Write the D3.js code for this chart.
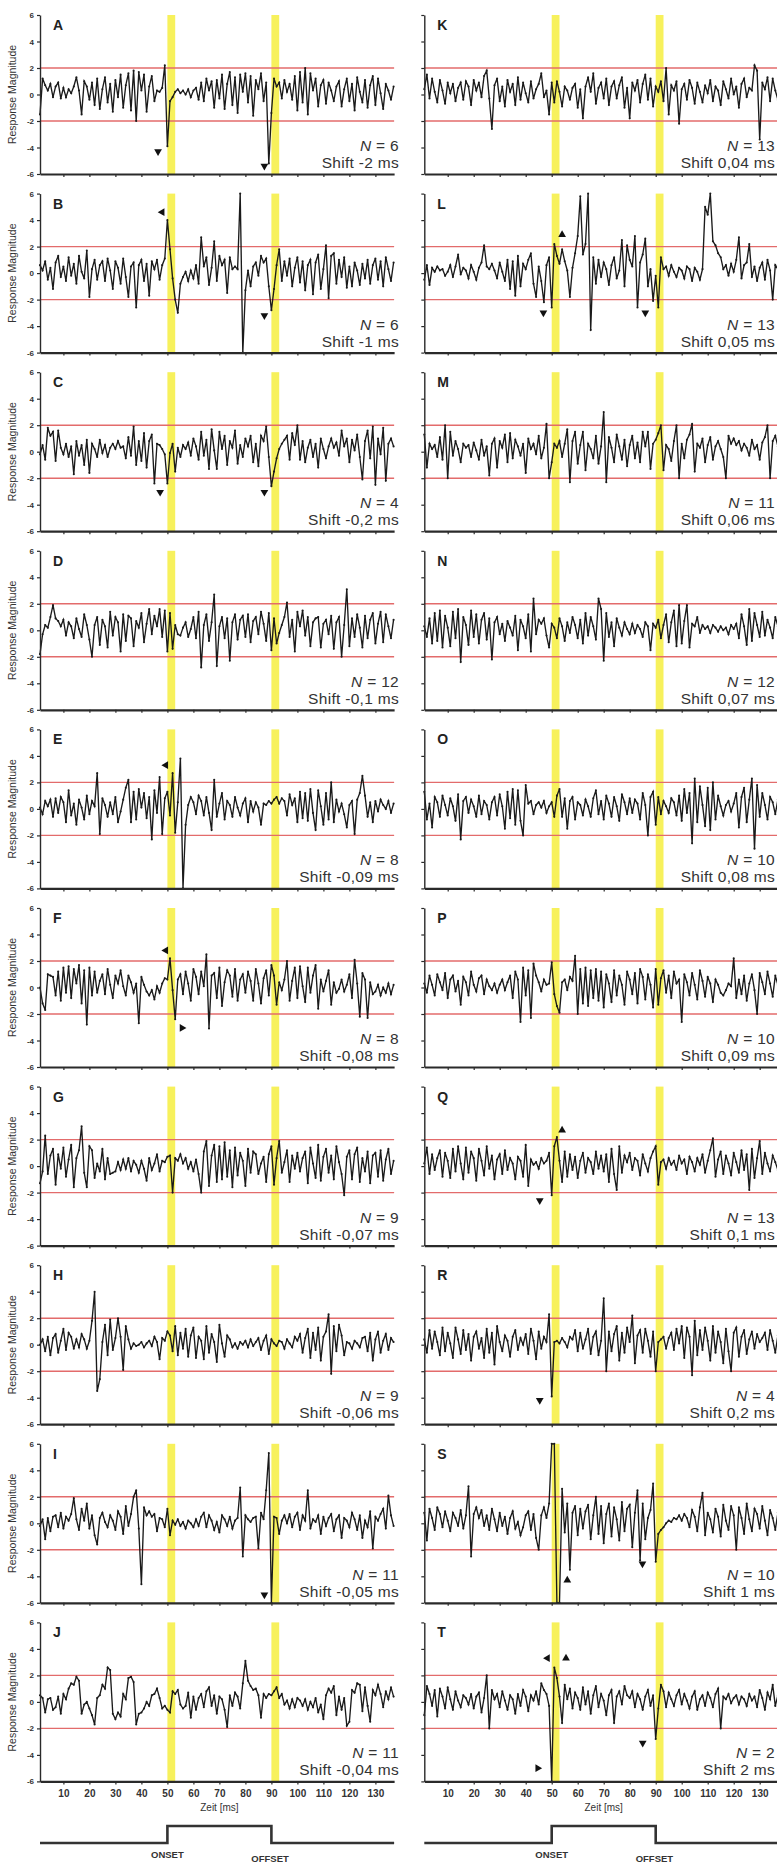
<!DOCTYPE html>
<html>
<head>
<meta charset="utf-8">
<script src="https://cdn.jsdelivr.net/npm/d3@7"></script>
<style>
  html, body { margin: 0; padding: 0; background: #fff; }
  svg { display: block; font-family: "Liberation Sans", Arial, Helvetica, sans-serif; }
</style>
</head>
<body>
<svg id="fig" width="777" height="1863"></svg>
<script>
// ---------------------------------------------------------------
// Response magnitude traces, one value per millisecond (t = 1 ... 137 ms)
// ---------------------------------------------------------------
const seriesA = [
  -1.5, 1.2, 0.7, 0.3, 0.8, -0.2, 0.6, 0.9, -0.3, 0.5,
  -0.2, 0.4, 0.1, 0.6, 1.3, 0.3, -1.5, 1.0, 0.6, -0.4,
  0.9, -0.8, 1.2, -1.1, 0.4, 1.3, -0.6, 0.8, -1.3, 1.1,
  -0.2, 1.5, -1.0, 0.7, 1.6, -1.2, 1.8, -2.0, 1.7, 0.3,
  1.5, -1.3, 0.6, 1.4, -0.5, 0.3, 0.2, 0.5, 2.2, -3.9,
  -0.5, -0.2, 0.2, 0.4, 0.1, 0.3, 0.0, 0.4, -0.2, 0.3,
  0.5, -0.4, 0.9, -0.5, 1.2, 0.3, 1.0, -1.0, 1.1, -0.3,
  1.5, -1.1, 0.8, 1.7, -0.8, 1.3, -1.4, 1.5, 0.2, 1.6,
  -0.6, 1.4, -1.6, 1.1, 0.4, 1.6, -0.5, 0.9, -5.2, -1.4,
  1.2, 0.6, 0.9, -0.3, 1.1, 0.2, 0.8, -0.4, 1.4, -1.2,
  1.7, -0.6, 2.0, -1.5, 1.6, 0.3, 1.2, -0.9, 0.7, 1.1,
  -0.7, 0.9, 0.3, -0.5, 0.6, 1.0, -0.9, 0.4, 1.2, -0.5,
  0.8, -1.2, 1.3, 0.2, -0.6, 1.1, -1.0, 0.7, 1.4, -0.8,
  1.2, 0.1, -1.1, 0.8, 0.3, -0.4, 0.6
];
const seriesB = [
  0.6, 0.2, 0.9, -0.5, 0.4, -1.2, 0.8, 1.3, -0.3, 0.5,
  -0.6, 1.2, -0.2, 0.7, -0.8, 1.3, 0.1, -0.4, 1.7, -1.8,
  0.3, 1.0, -0.5, 0.6, 0.9, -0.6, 1.1, 0.2, -1.2, 0.9,
  0.4, -0.8, 1.1, -0.3, -1.8, 0.5, 0.8, -2.6, 0.6, 1.0,
  -0.6, 0.7, -1.7, 0.9, 0.3, 1.0, -0.5, 0.6, 1.1, 4.0,
  1.8, -0.4, -2.0, -3.0, -0.8, -0.3, 0.1, -0.6, 0.2, -0.4,
  0.6, -0.8, 2.7, 0.5, 1.2, -0.9, 0.4, 2.4, -0.6, 1.3,
  0.6, 1.0, -1.5, 1.2, 0.3, 0.5, 0.3, 6.0, -6.0, -1.3,
  0.2, -1.0, 0.5, 0.8, -0.2, 1.3, 0.8, 1.1, -1.0, -2.8,
  -1.2, 0.6, 1.8, -0.6, 0.9, -0.2, 1.1, -1.0, 0.4, 1.2,
  -0.7, 0.9, -1.3, 0.6, 1.0, -1.6, 0.8, 1.4, -1.2, 0.3,
  2.1, -1.9, 1.3, 1.5, -0.8, 1.0, -0.3, 1.2, -1.1, 0.5,
  -1.0, 0.8, 0.2, -0.9, 0.7, -0.4, 1.0, -0.8, 0.6, 1.1,
  -0.5, 0.9, -1.0, 1.2, 0.3, -0.6, 0.8
];
const seriesC = [
  -0.2, 0.5, -0.6, 1.8, 1.2, 1.5, -0.7, 1.6, 0.3, -0.2,
  0.6, -0.4, 0.4, -1.7, 0.8, -0.3, 0.5, -1.0, 0.9, -1.6,
  0.6, 0.2, -0.4, 0.9, -0.1, 0.5, -0.4, 0.3, 0.6, 0.2,
  0.8, 0.3, 0.4, -0.5, 1.1, -0.3, 1.9, -1.0, 0.8, -0.7,
  1.4, -1.2, 0.8, 1.3, -2.4, 0.6, 0.5, 0.2, -0.2, -2.4,
  -0.1, 0.6, -1.5, 0.3, -0.4, 0.5, 0.2, 0.7, -0.3, 1.0,
  0.4, -0.6, 1.5, -0.3, 0.9, -1.3, 1.7, 0.1, -1.3, 1.5,
  0.2, 1.2, -1.0, 0.8, 0.3, 1.6, -0.9, 0.5, -0.4, 1.0,
  0.4, 1.2, -0.8, 0.6, -1.1, 1.2, 0.8, 1.9, -0.4, -2.6,
  -1.5, -0.5, 0.2, 0.6, 0.9, 1.2, -0.6, 1.4, 0.5, 2.0,
  -0.6, 0.8, -0.8, 0.3, 0.9, -0.4, 0.6, -1.2, 1.0, 0.2,
  -0.5, 0.4, 1.0, 0.3, 0.7, -0.3, 1.6, 0.4, 1.0, -0.8,
  0.9, 0.1, 1.3, -0.4, -2.1, 0.8, 1.6, -0.5, 1.9, -2.5,
  1.0, -0.2, 1.8, -2.2, 0.6, 1.0, 0.4
];
const seriesD = [
  -1.8, -0.3, 0.4, 0.2, 1.0, 1.9, 0.9, 0.7, 0.3, 0.8,
  -0.4, 0.6, 0.3, -0.6, 0.9, 0.1, -0.5, 1.2, 0.4, -0.7,
  -2.0, 0.4, 1.0, -1.1, 0.8, 0.3, -1.3, 1.4, -0.4, 1.0,
  0.6, -1.6, 1.2, -0.8, 1.1, 0.9, -1.2, 0.7, 0.2, 1.3,
  -0.9, 0.5, 1.6, -0.3, 1.1, 0.3, 1.6, -0.5, 1.5, -1.6,
  1.3, -1.4, 0.4, -0.3, -0.4, 0.2, 0.6, -0.5, 0.1, 1.0,
  -0.6, 1.4, -2.8, 0.4, 1.2, -0.8, 0.6, 2.7, -2.7, 0.3,
  1.0, -0.6, 0.9, -2.3, 0.6, 1.2, -0.7, 0.8, 1.1, -0.5,
  1.2, -0.9, 0.7, 1.0, -0.3, 1.4, 0.5, -0.8, 1.3, -1.5,
  0.9, -1.0, -0.2, 0.4, 1.0, 2.1, -0.5, 0.8, -1.6, 1.4,
  0.3, 1.5, -0.4, 1.0, -1.2, 0.6, 0.9, 1.0, -1.3, 0.5,
  0.8, -0.3, 1.1, -1.4, 0.6, 1.0, -2.0, 0.4, 3.1, -1.2,
  0.9, -0.5, 1.2, 0.2, -1.3, 1.1, -0.6, 0.8, 1.3, -1.0,
  0.5, 1.4, -0.9, 1.2, 0.3, -0.6, 0.8
];
const seriesE = [
  0.1, -0.4, 0.6, 0.2, 0.7, -0.6, 0.8, -0.3, 0.9, 0.5,
  -1.0, 1.4, -0.5, 0.4, -1.2, 0.7, 0.1, -0.8, 1.0, -0.4,
  0.6, 0.2, 2.7, -1.9, 0.8, 0.3, -0.6, 0.5, -0.4, 0.9,
  -1.0, -0.2, 0.7, 1.6, 2.2, -1.0, 1.3, -0.8, 1.5, 0.1,
  1.2, -0.7, 0.9, -2.3, 1.4, -0.3, 2.4, -1.9, 0.8, 1.3,
  -0.5, 2.7, -1.8, 0.5, 3.8, -6.0, -1.2, 0.3, 0.9, 0.5,
  -0.4, 1.0, 0.6, -0.5, 0.9, -0.3, -1.6, 2.2, -0.6, 0.4,
  1.2, -0.8, 0.6, 0.3, -0.6, 0.9, 0.1, -0.5, 0.4, 0.8,
  -1.0, 0.6, -0.2, 0.5, 0.1, -1.2, 0.4, 0.3, 0.6, 0.4,
  0.7, 0.9, 0.4, 0.8, 0.6, -0.5, 1.1, 0.3, 0.8, -1.0,
  1.3, -0.7, 1.2, -0.9, 1.5, -0.3, -1.6, 1.4, 0.2, -1.2,
  1.2, -0.8, 2.0, -1.0, 0.7, -0.2, 0.4, -0.4, -1.4, 0.3,
  0.6, -1.9, 0.7, 1.2, 2.5, 1.0, -0.6, 0.5, -1.0, 0.6,
  -0.2, 0.7, 0.3, 0.0, 0.6, -0.3, 0.4
];
const seriesF = [
  0.0, -1.2, -1.7, 1.0, 0.9, 0.8, -0.6, 1.2, -1.0, 1.5,
  -0.4, 1.6, -0.8, 1.4, 0.3, 1.7, -1.2, 1.3, -2.8, 1.5,
  -0.6, 1.2, -0.4, 0.5, 1.0, -0.5, 1.4, 0.2, -0.8, 0.9,
  0.3, 1.3, 0.1, -0.6, 0.9, 0.4, -0.4, 0.3, -2.7, 0.8,
  0.2, -0.3, -0.6, -0.2, -0.9, 0.1, -0.4, 0.3, 0.7, 0.6,
  2.2, -0.2, -2.4, 0.6, 1.0, -0.5, 1.2, 0.3, -1.0, 1.4,
  0.8, -0.5, 1.2, 0.1, 2.5, -3.1, 0.9, 1.1, -0.8, 1.5,
  -1.4, 0.4, 1.3, 0.9, -0.7, 1.4, -1.0, 0.6, 1.0, -0.4,
  1.2, 0.5, -1.0, 1.4, 0.3, -1.2, 0.7, 1.3, -0.6, 1.7,
  0.9, -1.3, 0.4, -0.2, 0.6, 2.0, -1.0, 0.5, 1.5, -0.8,
  1.6, 0.1, -1.1, 1.5, -0.4, 0.9, 1.7, -1.6, 0.6, -0.3,
  0.5, 1.3, -1.3, 0.4, -0.4, -0.1, 0.6, -0.3, 0.2, 1.0,
  -0.8, 2.1, 0.3, -2.2, 1.1, 0.6, -2.3, 0.4, -0.5, -0.3,
  0.2, -0.6, 0.0, -0.4, 0.3, -0.5, 0.2
];
const seriesG = [
  -1.3, -0.4, 2.3, -0.6, 0.8, 1.3, -1.4, 0.9, -0.2, 1.4,
  -0.8, 0.5, 1.6, -1.6, 0.6, 1.2, 3.0, -0.5, -1.6, 1.5,
  1.2, -0.9, 0.2, -0.4, 1.3, -1.0, 0.6, -0.6, -0.5, -0.4,
  0.3, -0.3, 0.5, -0.2, 0.6, -0.4, 0.4, 0.1, -0.5, 0.4,
  -0.2, -1.1, 0.6, -0.3, 0.2, 0.9, -0.4, 0.4, 0.3, 0.7,
  0.8, -2.0, 0.6, 0.4, 0.9, 0.2, 0.6, -0.2, 0.3, -0.4,
  0.5, -0.6, -2.0, 1.1, 1.9, -1.5, 0.8, 1.6, -1.2, 1.5,
  -1.0, 1.8, -0.8, 1.2, -1.6, 1.4, -0.7, 1.0, 0.4, -1.5,
  1.3, -0.5, 1.1, 0.9, -0.6, 0.2, 0.7, -1.2, 0.9, 1.5,
  -1.4, 0.6, 1.9, -0.5, 0.3, 1.2, -1.2, 0.8, -0.2, 1.0,
  -0.4, 0.6, 1.1, -1.3, 1.4, 0.2, -0.9, 1.6, -1.1, 0.7,
  1.3, -0.5, 0.8, -1.0, 1.5, 0.3, -0.6, -2.2, 0.7, 1.2,
  -1.0, 0.9, 1.4, -1.2, 0.6, -0.4, 1.1, -1.3, 0.8, 1.0,
  -0.8, 1.2, -1.1, 0.5, 1.3, -0.6, 0.4
];
const seriesH = [
  0.0, 0.4, -0.5, 0.6, -0.8, 0.5, 0.8, -0.6, 0.3, 1.2,
  -0.4, 0.9, 0.6, -0.3, 0.4, -0.2, 0.8, 0.4, -0.3, 0.3,
  1.8, 4.0, -3.5, -2.6, 0.2, 1.5, -0.8, 1.9, -0.4, 0.5,
  2.0, 0.6, -1.9, 1.4, 0.4, -0.3, 0.1, -0.1, 0.0, 0.2,
  -0.2, 0.1, 0.3, -0.1, 0.6, 0.2, -1.1, 0.5, 0.3, 1.0,
  0.7, -0.5, 1.4, -0.8, 0.9, -0.3, 1.2, -0.9, 0.7, 1.3,
  -1.0, 0.6, 0.3, -1.1, 1.4, -0.6, 0.8, 0.2, -1.3, 1.5,
  0.1, -0.9, 0.7, 0.4, -0.2, 0.1, -0.3, 0.2, 0.0, 0.3,
  -0.2, 0.4, -0.1, 0.2, 0.5, -0.4, 0.3, 0.7, -0.7, 0.4,
  0.1, -0.1, 0.3, 0.2, -0.3, 0.4, 0.1, -0.2, 0.6, 0.3,
  0.8, -0.6, 0.5, 1.2, -1.0, 0.9, -0.4, 1.3, -1.2, 0.6,
  1.0, 2.3, -2.2, 1.4, -0.5, 1.5, 0.7, -0.8, 0.2, 0.1,
  -0.3, 0.3, 0.1, -0.2, 0.5, 0.6, -0.5, 0.9, -1.2, 0.4,
  1.0, -0.6, 0.3, 0.8, -0.4, 0.5, 0.2
];
const seriesI = [
  -0.2, 0.3, -1.2, 0.4, -0.6, 0.5, 0.6, -0.3, 0.8, -0.4,
  0.5, 0.2, 0.7, 1.9, 0.3, -0.5, 1.1, 0.2, 1.5, -0.4,
  0.6, -0.9, -1.6, 0.4, 0.8, 0.1, -0.3, 0.6, 0.2, -0.5,
  0.9, 0.5, -0.8, 1.3, -0.2, 0.7, 2.0, 2.5, -0.4, -4.6,
  1.2, 0.6, 0.9, 0.5, 0.7, -0.6, 0.4, 0.3, -0.3, 1.1,
  -0.9, 0.2, -0.1, 0.3, -0.2, 0.1, -0.4, 0.2, 0.0, -0.3,
  0.3, -0.2, 0.5, 0.8, -0.3, 0.6, 0.2, -0.5, 0.1, -0.7,
  0.6, 0.3, -0.2, 0.5, -0.4, 0.2, 0.4, 2.7, -2.5, 0.6,
  0.3, 0.1, 0.4, 0.5, -1.9, 0.8, 0.3, 2.5, 5.3, -6.0,
  0.5, 0.4, -0.8, 0.2, 0.6, 0.0, 0.7, -0.3, 0.5, 0.8,
  -0.5, 0.6, 0.2, 2.5, -0.4, 0.3, 0.1, 0.6, -0.8, 0.5,
  -0.2, 0.4, 0.7, -0.6, 0.3, 0.6, -1.1, 0.4, 0.2, -0.3,
  0.8, 0.3, -0.5, 0.6, -1.1, 0.2, -0.3, 0.9, -1.9, 0.5,
  0.2, 0.7, 1.1, -0.4, 2.1, 0.6, -0.2
];
const seriesJ = [
  0.5, 0.3, -0.8, 0.2, 0.3, -0.6, -0.4, 0.4, -0.9, 0.6,
  0.2, 1.0, 1.4, 1.3, 1.9, 1.6, -0.9, -0.2, 0.0, -0.5,
  -1.0, -1.7, 0.3, 0.5, 1.3, 1.0, 2.6, 2.4, -0.9, -1.3,
  -0.8, -1.1, 0.6, 0.2, 1.8, 1.9, 1.5, -1.7, -0.9, -0.8,
  -0.5, 0.0, -0.3, 0.5, 0.6, 1.0, 0.3, -0.5, -0.3, -0.6,
  -0.8, 0.8, 0.6, 0.9, -0.2, -0.5, -0.3, 0.7, -1.2, 0.4,
  -0.6, 0.3, 0.6, -0.4, 0.8, 1.1, -0.3, 0.5, -0.9, 0.4,
  0.2, -0.6, -1.9, 0.5, -0.3, 0.7, 0.4, -0.5, 1.4, 3.1,
  1.6, 1.2, 0.9, 1.0, 0.5, -1.2, 0.6, 0.3, 0.6, 0.5,
  0.8, 1.1, 0.3, 0.6, -0.2, 0.1, -0.5, 0.2, -0.4, 0.3,
  0.1, -0.3, 0.2, -0.6, 0.0, -0.4, 0.3, -0.8, -0.2, -1.3,
  0.5, 1.0, 0.7, 1.2, -1.0, 0.4, -0.6, 0.3, -1.8, -1.5,
  0.9, 0.7, 1.4, 1.3, -0.7, 1.1, -0.3, -1.5, 0.9, 0.5,
  1.3, 0.6, -0.4, 0.8, 0.2, 1.1, 0.4
];
const seriesK = [
  0.4, 1.5, -0.3, 1.2, 0.2, -0.6, 1.1, 0.3, -0.7, 0.9,
  0.1, 0.8, -0.5, 0.5, 0.9, -0.4, 1.0, 0.6, -0.8, 1.1,
  0.3, 0.9, -0.2, 1.4, 1.8, -0.3, -2.6, 0.7, 1.2, -0.5,
  0.6, -0.9, 1.1, 0.2, 0.8, -0.8, 1.3, -0.4, 0.9, 0.1,
  -0.6, 1.0, -0.3, 0.4, 0.8, 1.6, -0.2, 0.3, -1.5, 0.9,
  -0.6, 1.0, 0.2, -0.9, 0.6, 0.3, -0.4, 0.5, 0.8, -1.0,
  0.4, -1.8, 0.6, 1.3, 0.2, 1.6, -0.7, 0.5, 0.9, -0.3,
  1.2, -0.8, 0.6, 1.0, -0.3, 0.7, 1.3, -1.0, 0.5, -1.8,
  0.9, 0.3, 1.1, -0.6, 0.8, 1.5, -0.4, 1.2, -0.9, 0.6,
  0.2, 1.0, -0.5, 2.0, -1.5, 0.7, 0.3, 1.0, -2.2, 0.4,
  0.8, -0.4, 1.1, 0.5, -0.7, 0.9, 0.2, -0.6, 0.7, 0.1,
  1.1, -0.5, 0.6, 0.3, -0.8, 1.0, 0.4, -0.3, 1.2, 0.0,
  0.6, -1.0, 0.8, 1.2, -0.2, 0.5, 0.3, 2.2, 1.8, -3.4,
  0.9, 0.4, 1.3, -0.5, 1.2, 0.3, -0.4
];
const seriesL = [
  -0.5, 0.6, -0.9, 0.4, 0.1, 0.5, 0.2, 0.3, -0.2, 0.1,
  0.6, -0.3, 0.5, 1.4, -0.1, 0.4, 0.2, -0.4, 0.6, 0.1,
  -0.5, 0.4, 0.8, 2.1, 0.5, 0.3, 0.7, 0.2, -0.4, 0.8,
  0.1, -0.6, 1.0, -1.2, 0.9, -1.7, 1.3, -1.0, 0.7, 0.3,
  1.0, 1.5, -0.8, -1.8, 0.5, -0.6, -2.2, 0.6, 1.2, -2.6,
  2.2, 1.3, 0.7, 1.8, 0.9, 0.2, -1.8, 0.4, 1.5, 2.8,
  5.8, 1.4, 2.2, 6.0, -4.3, 1.2, -0.8, 1.0, -0.3, 0.8,
  0.3, -0.9, 0.6, 1.2, -0.4, 0.2, 2.5, -1.0, 2.1, 1.0,
  0.5, 2.8, -2.6, 0.8, 1.4, 2.6, -1.0, 0.3, -2.1, -0.2,
  -2.6, 1.2, 0.3, 0.5, -0.2, 0.6, 0.1, -0.3, 0.4, 0.2,
  -0.4, 0.5, 0.3, -0.6, 0.4, 0.1, -0.5, 0.3, 5.0, 4.4,
  6.0, 2.4, 2.1, 1.5, 1.2, 0.3, 0.6, -0.2, 0.7, 0.1,
  1.0, 2.7, -0.4, 0.6, 0.8, 2.2, -0.3, 0.5, -0.6, 0.4,
  0.8, -0.5, 1.0, 0.2, -2.0, 0.6, 0.3
];
const seriesM = [
  1.3, -1.2, 0.6, 0.2, 0.5, -0.4, 1.1, -0.6, 2.0, -2.0,
  1.5, -0.3, 0.8, 0.2, -0.8, 0.6, 0.3, 0.5, -0.4, 0.7,
  0.1, -0.6, 0.9, -0.3, 0.4, -1.8, 0.6, 1.0, -1.2, 0.8,
  0.3, 1.3, -0.8, 1.4, -0.5, 0.9, 0.4, -0.3, 0.6, -1.6,
  1.0, 0.2, 0.6, -0.2, 1.2, -0.5, 0.3, 2.1, -2.0, -0.8,
  0.6, 0.3, 0.8, -0.4, 0.6, 1.7, -2.3, 0.8, 1.5, -0.9,
  0.5, 1.5, -1.4, 0.6, 0.2, -0.5, 1.2, -0.9, 0.4, 3.0,
  -2.3, 1.1, 0.3, -0.8, 1.3, 0.4, -0.6, 0.9, -1.1, 0.5,
  1.2, -0.5, 0.7, -0.8, 1.5, 0.4, 1.5, -1.3, 0.6, 0.9,
  1.4, 2.0, -1.4, 0.5, 0.2, -0.7, 0.8, 2.0, -2.0, 0.6,
  -0.5, 0.9, 1.3, 2.1, -1.5, 0.6, 0.3, 1.0, -0.8, 0.5,
  1.1, -0.6, 0.4, 0.8, 0.2, -0.4, -2.0, 1.2, 0.6, 1.0,
  0.5, 0.8, 0.1, 0.6, 0.3, -0.3, 0.9, 0.2, 0.5, -0.6,
  0.7, 1.1, 2.0, -2.0, 0.8, 1.2, 0.4
];
const seriesN = [
  0.3, -0.5, 0.9, -1.0, 1.3, -0.8, 1.5, -1.3, 1.1, 0.2,
  -1.2, 1.4, -0.6, 1.6, -2.4, 1.0, 0.4, -1.1, 1.5, -0.5,
  1.2, -1.0, 0.8, 1.3, -0.7, 0.9, -2.2, 0.6, 1.0, -0.3,
  0.5, -0.8, 0.7, 0.2, -0.4, 1.1, -1.5, 0.8, 0.3, -0.6,
  1.2, -1.6, 2.4, -0.3, 0.8, 0.5, 0.9, -0.4, -1.3, 0.5,
  0.2, -0.6, 0.9, 0.3, -0.8, 0.6, -0.2, 1.0, 0.4, -0.6,
  0.8, -1.0, 1.3, -0.4, 1.0, 0.3, -0.7, 2.4, 1.6, -2.3,
  1.3, -0.5, 0.6, -1.2, 0.9, 0.2, -0.4, 0.6, 0.1, -0.3,
  0.5, -0.2, 0.4, 0.1, -0.5, 0.6, 0.3, -1.5, 0.5, 0.2,
  0.8, -0.6, 0.4, 1.2, -0.9, 0.6, 1.5, -1.2, 1.9, -1.0,
  0.7, 1.9, -1.3, 0.5, 0.3, 1.0, -0.2, 0.4, 0.1, 0.3,
  -0.2, 0.4, 0.2, -0.1, 0.3, 0.0, 0.2, -0.3, 0.4, 0.1,
  0.5, -0.6, 1.2, 0.3, -1.1, 1.6, -0.8, 1.3, 0.4, -0.5,
  1.4, -0.4, 0.8, 0.2, -0.6, 1.0, 0.3
];
const seriesO = [
  1.3, -0.8, 0.4, -1.4, 0.9, 0.5, -0.6, 1.0, 0.3, -0.5,
  0.8, 0.2, -0.9, 1.1, -2.3, 0.6, 0.9, -0.3, 0.7, 0.2,
  -0.6, 1.0, -0.4, 0.6, 0.3, -0.8, 0.5, 0.9, -0.5, 1.1,
  0.2, -1.5, 1.3, -0.7, 1.5, -1.2, 1.4, -0.9, -2.0, 1.8,
  0.4, 0.6, -0.4, 0.3, 0.5, 0.1, 0.6, -0.3, 0.2, 0.5,
  -0.6, 1.0, 1.5, -0.6, 0.8, -1.5, 0.6, 0.9, -0.8, 0.5,
  0.3, -0.5, 0.7, 0.2, -0.6, 0.8, 1.4, -0.4, 0.6, -0.8,
  1.0, 0.4, -0.6, 0.9, 0.2, -0.9, 1.1, 0.5, -0.4, 0.8,
  -0.3, 0.7, 0.4, -0.8, 1.2, 0.3, -2.0, 0.9, 1.3, -1.2,
  0.9, -0.4, 0.6, 0.2, -0.3, 0.8, 0.5, -0.5, 1.0, -0.9,
  1.5, -0.3, 1.2, -2.6, 2.3, -1.0, 1.7, 0.3, -1.3, 1.6,
  -1.6, 2.0, -0.8, 1.0, 0.2, -0.5, 0.3, 0.6, -0.2, 0.4,
  1.2, -1.4, 0.9, 1.6, -1.0, 0.7, 2.3, -3.0, 1.8, -0.6,
  1.2, 0.3, -0.8, 0.9, 0.5, -0.4, 0.7
];
const seriesP = [
  0.3, -0.4, 0.9, 0.2, -0.6, 1.0, 0.4, -0.2, 1.1, -0.8,
  0.6, 0.9, -0.3, 0.5, -1.3, 0.8, 0.4, -0.6, 1.2, 0.2,
  -0.3, 0.7, 0.9, -0.5, 0.6, 0.1, -0.2, 0.3, -0.4, 0.2,
  0.6, -0.2, 0.4, 0.9, -0.8, 1.2, 0.6, -2.6, 1.5, -0.6,
  1.3, -2.3, 1.8, 0.9, 0.4, -0.3, 0.6, 0.2, 0.3, 1.9,
  -0.5, -1.4, -1.9, 0.4, 0.6, -0.2, 0.8, 0.5, 2.4, -2.0,
  1.4, -1.2, 1.5, -1.4, 1.3, -0.8, 1.4, -1.0, 1.2, -1.5,
  1.0, 0.3, -1.1, 1.3, -0.6, 0.9, 0.2, -1.3, 1.2, 0.6,
  -0.5, 1.1, -1.2, 1.4, 0.8, -0.9, 1.0, 0.2, -1.5, 1.4,
  -1.3, 0.7, 1.3, -0.4, 0.9, -0.8, 1.2, 0.3, 0.6, -2.6,
  1.0, 0.4, -0.6, 1.1, 0.2, -0.9, 1.3, 0.5, -0.7, 0.8,
  0.3, -1.1, 0.6, 0.2, -0.4, -0.6, -0.2, 0.3, 0.1, 2.2,
  -0.8, 0.6, -0.5, 0.9, -1.0, 0.3, 1.0, -0.2, -2.0, 1.1,
  0.4, -0.5, 1.2, 0.3, -0.7, 0.9, 0.2
];
const seriesQ = [
  0.2, 1.4, -0.6, 0.9, -0.3, 0.6, 1.2, -0.8, 1.0, 0.4,
  -0.9, 1.3, -0.4, 1.5, 0.2, -1.0, 1.4, -0.5, 1.1, 0.6,
  -1.1, 1.3, 0.4, -0.7, 1.5, -0.2, 0.8, -1.0, 0.5, 0.9,
  -0.6, 1.2, -0.3, 0.6, 0.2, -1.0, 0.7, 0.4, -0.8, 1.6,
  -1.5, 0.5, 0.1, 0.3, -0.2, 0.6, 0.2, 0.4, 1.0, -2.2,
  1.5, 2.2, 0.4, -1.2, 1.1, -0.8, 0.9, -0.3, 0.7, -0.9,
  0.4, 1.0, -0.5, 0.6, 0.3, -0.6, 1.1, -0.2, 0.8, -0.4,
  0.9, -1.2, 1.3, -0.6, -1.8, 1.5, -0.5, 0.8, 0.3, 1.0,
  -0.3, 0.6, 0.4, -0.7, 0.9, 0.2, -0.4, 0.6, 1.1, 1.5,
  -1.4, 0.3, 0.5, -0.2, 0.6, 0.1, 0.4, -0.3, 0.8, 0.2,
  0.5, -0.6, 0.7, 0.3, -0.4, 0.6, 0.1, 0.9, -0.5, 0.4,
  1.2, 2.1, -0.8, 0.5, 1.1, -0.6, 0.8, 0.2, -0.7, 1.0,
  0.3, -0.5, 1.2, -0.3, 0.9, -1.8, 1.3, -0.9, 0.6, 1.9,
  -0.6, 1.0, 0.2, -0.4, 0.8, 0.3, -0.3
];
const seriesR = [
  0.4, -0.6, 1.1, -0.3, 1.0, 0.2, -0.8, 1.3, -0.5, 0.9,
  0.1, -1.0, 1.3, 0.4, -0.7, 1.1, -0.4, 0.8, -1.2, 0.6,
  1.0, -0.3, 0.5, -1.0, 1.2, -0.6, 0.9, -1.5, 1.4, 0.2,
  -0.5, 0.7, 0.3, -0.9, 0.6, 1.1, -0.4, 0.5, 0.0, 0.8,
  -0.7, 1.2, 0.3, -1.1, 1.0, -0.3, 0.6, 0.2, 2.3, -3.9,
  0.2, 0.3, 0.1, 0.5, 0.2, -0.2, 0.6, 0.4, 1.1, -0.5,
  0.9, -0.3, 0.4, 1.2, -0.7, 0.6, 1.0, -0.8, 0.3, 3.5,
  -2.0, 1.0, -0.5, 0.8, 1.4, -1.2, 0.9, -0.6, 1.3, 0.2,
  2.2, -1.4, 0.7, 1.1, -0.6, 1.2, 0.3, -0.9, 1.0, -2.0,
  0.2, 0.4, 0.6, -0.3, 0.5, 0.9, -0.4, 1.2, 0.1, 1.4,
  -1.0, 1.3, 0.6, -2.3, 1.8, -0.8, 1.1, -0.4, 1.3, 0.3,
  -1.2, 1.4, -0.6, 1.0, 0.2, -1.4, 1.2, -0.5, -2.0, 0.9,
  1.3, -0.9, 0.6, 1.1, -0.7, 0.4, 1.0, -0.3, 0.8, 0.2,
  0.5, 0.9, -0.4, 1.1, 0.3, -0.6, 0.7
];
const seriesS = [
  0.8, -1.3, 1.1, 0.4, -0.5, 1.2, 0.7, -0.3, 0.9, 0.2,
  -0.6, 0.8, 0.4, -0.2, 1.0, -0.4, 0.6, 2.8, -2.5, 0.7,
  1.2, 0.4, 1.0, -0.2, 0.6, -0.5, 1.1, 0.3, -0.6, 0.8,
  -0.2, 0.5, -0.8, 0.4, 0.9, -0.4, 0.1, -0.9, -0.3, 0.6,
  0.9, -0.5, 0.7, -1.1, -2.0, 0.6, 1.2, 0.4, 1.5, 6.0,
  6.0, -6.0, -6.0, 2.6, -0.7, 1.5, -3.5, 0.8, 1.3, -0.9,
  1.1, -0.4, 0.9, 1.4, -1.2, 0.6, 2.0, -0.8, 1.3, -1.5,
  0.7, 1.5, -1.0, 1.2, 0.3, -1.3, 1.6, -0.6, 1.1, 1.4,
  -1.8, 0.8, 2.5, -2.8, 1.5, -1.2, 0.4, 1.0, 3.0, -2.9,
  -0.8, -0.5, -0.3, 0.0, 0.2, 0.1, 0.4, 0.3, 0.6, 0.2,
  0.7, 0.4, -0.3, 1.0, 0.5, -0.6, 1.2, 2.3, -0.9, 0.8,
  0.3, -0.7, 1.1, 0.5, -1.0, 1.4, 0.2, -0.5, 1.3, 0.6,
  -2.0, 1.2, 0.4, -0.8, 1.5, 0.3, -0.6, 1.1, 0.7, -0.4,
  1.3, 0.2, -0.9, 1.0, 0.4, -0.5, 0.8
];
const seriesT = [
  -1.0, 1.2, 0.6, -0.3, 0.9, -1.1, 1.0, 0.4, -0.5, 1.1,
  0.2, -0.6, 0.8, 0.1, -0.4, 0.5, 0.3, -0.2, 0.6, -0.5,
  0.4, 0.7, -0.8, 0.3, 2.0, -2.0, 0.9, 0.2, 0.6, -0.4,
  0.8, 0.1, -0.6, 0.5, 0.2, -0.9, 0.6, -0.3, 0.9, 0.4,
  -0.7, 0.5, 0.1, 0.8, -0.2, 1.4, 0.9, 0.6, -0.3, -6.0,
  2.6, 1.8, 0.4, -1.6, 1.3, 0.2, 1.0, -0.5, 0.7, 0.3,
  -0.6, 1.1, -0.2, 0.8, -0.9, 0.5, 1.2, -0.4, 0.6, 0.1,
  -1.0, 0.5, 0.9, -1.6, 0.4, 0.8, -0.2, 1.2, 0.5, 0.3,
  0.8, -0.4, 0.6, 0.2, -0.6, 0.4, 0.9, -0.3, 0.5, -2.8,
  -0.5, 1.3, 0.8, -0.4, 0.7, 0.2, -0.3, 0.5, 0.9, -0.2,
  0.6, 0.1, -0.5, 0.4, 0.8, -0.6, 0.2, 0.5, -0.3, 0.7,
  0.3, -0.4, 0.6, 1.0, -2.0, 0.4, 0.2, 0.6, -0.1, 0.3,
  0.5, -0.2, 0.4, 0.2, -0.3, 0.6, 0.1, 0.4, -0.4, 0.9,
  0.3, -0.6, 0.7, 0.2, 1.3, -0.3, 0.5
];

// Panel annotations
const panelLetters = ["A","B","C","D","E","F","G","H","I","J",
                      "K","L","M","N","O","P","Q","R","S","T"];
const panelN = [6, 6, 4, 12, 8, 8, 9, 9, 11, 11,
                13, 13, 11, 12, 10, 10, 13, 4, 10, 2];
const panelShift = ["Shift -2 ms", "Shift -1 ms", "Shift -0,2 ms", "Shift -0,1 ms", "Shift -0,09 ms",
                    "Shift -0,08 ms", "Shift -0,07 ms", "Shift -0,06 ms", "Shift -0,05 ms", "Shift -0,04 ms",
                    "Shift 0,04 ms", "Shift 0,05 ms", "Shift 0,06 ms", "Shift 0,07 ms", "Shift 0,08 ms",
                    "Shift 0,09 ms", "Shift 0,1 ms", "Shift 0,2 ms", "Shift 1 ms", "Shift 2 ms"];
const allSeries = [seriesA, seriesB, seriesC, seriesD, seriesE, seriesF, seriesG, seriesH, seriesI, seriesJ,
                   seriesK, seriesL, seriesM, seriesN, seriesO, seriesP, seriesQ, seriesR, seriesS, seriesT];

// Significant-response markers: [panel letter, time ms, magnitude, pointing direction]
const markerPanel = ["A","A","B","B","C","C","E","F","F","I",
                     "L","L","L","Q","Q","R","S","S","T","T","T","T"];
const markerTime  = [46.4, 87.3, 48.0, 87.3, 47.2, 87.3, 49.4, 49.4, 55.6, 87.3,
                     54.0, 46.8, 86.0, 54.0, 45.4, 45.4, 56.0, 84.9, 48.4, 55.5, 44.6, 85.0];
const markerValue = [-4.3, -5.4, 4.6, -3.2, -3.05, -3.05, 3.3, 2.8, -3.05, -5.4,
                     2.9, -3.0, -3.0, 2.7, -2.6, -4.2, -4.3, -3.05, 3.3, 3.3, -5.0, -3.1];
const markerDir   = ["down","down","left","down","down","down","left","left","right","down",
                     "up","down","down","up","down","down","up","down","left","up","right","down"];

// Axes, thresholds and stimulus timing
const yTicks = [-6, -4, -2, 0, 2, 4, 6];
const xTicks = [10, 20, 30, 40, 50, 60, 70, 80, 90, 100, 110, 120, 130];
const thresholds = [2, -2];
const windowStart = [50, 90];
const windowEnd = [53, 93];
const stimulusTime  = [1, 50, 50, 90, 90, 137.2];
const stimulusLevel = [0, 0, 1, 1, 0, 0];
const stimulusLabels = ["ONSET", "OFFSET"];
const stimulusLabelTime = [50, 89.5];

// ---------------------------------------------------------------
// Layout
// ---------------------------------------------------------------
const timeMs = d3.range(1, 138);           // sample grid, 1 ms steps
const tDomain = [1, 137.2];
const pxPerMs = 2.6;
const columnAxisX = [40, 424.3];
const columnTextRight = [399, 775];
const panelTop0 = 15, panelStep = 178.6, panelH = 159;

const svg = d3.select("#fig");
svg.append("rect").attr("width", 777).attr("height", 1863).attr("fill", "#fff");

const inkColor = "#2a2a2a";
const lineGen = d3.line();

allSeries.forEach((values, idx) => {
  const col = Math.floor(idx / 10), row = idx % 10;
  const axisX = columnAxisX[col];
  const top = panelTop0 + row * panelStep;
  const x = d3.scaleLinear().domain(tDomain).range([axisX, axisX + pxPerMs * (tDomain[1] - tDomain[0])]);
  const y = d3.scaleLinear().domain([-6, 6]).range([top + panelH, top]);
  const g = svg.append("g").attr("class", "panel panel-" + panelLetters[idx]);

  // stimulus windows
  g.selectAll("rect.win").data(windowStart).join("rect")
    .attr("class", "win")
    .attr("x", (d) => x(d))
    .attr("width", (d, i) => x(windowEnd[i]) - x(d))
    .attr("y", y(6)).attr("height", y(-6) - y(6))
    .attr("fill", "#f7f15c");

  // ±2 thresholds
  g.selectAll("line.thr").data(thresholds).join("line")
    .attr("class", "thr")
    .attr("x1", x(tDomain[0])).attr("x2", x(tDomain[1]))
    .attr("y1", (d) => y(d)).attr("y2", (d) => y(d))
    .attr("stroke", "#e36b6b").attr("stroke-width", 1.4);

  // response trace
  const pts = values.map((v, i) => [x(timeMs[i]), y(v)]);
  g.append("path")
    .attr("d", lineGen(pts))
    .attr("fill", "none")
    .attr("stroke", "#1a1a1a")
    .attr("stroke-width", 1.35)
    .attr("stroke-linejoin", "miter");
  g.selectAll("circle.pt").data(values).join("circle")
    .attr("class", "pt")
    .attr("cx", (d, i) => x(timeMs[i]))
    .attr("cy", (d) => y(d))
    .attr("r", 1.05)
    .attr("fill", "#1a1a1a");

  // y axis
  const yAxis = d3.axisLeft(y).tickValues(yTicks).tickSize(3).tickSizeOuter(0).tickPadding(3)
    .tickFormat(col === 0 ? (d) => String(d) : () => "");
  const ya = g.append("g").attr("transform", `translate(${axisX},0)`).call(yAxis);
  ya.select(".domain").attr("stroke", inkColor).attr("stroke-width", 1.4);
  ya.selectAll(".tick line").attr("stroke", inkColor).attr("stroke-width", 1.2);
  ya.selectAll(".tick text").attr("fill", "#333").style("font-size", "8px").style("font-weight", "bold");

  // x axis
  const isBottom = row === 9;
  const xAxis = d3.axisBottom(x).tickValues(xTicks).tickSize(3).tickSizeOuter(0).tickPadding(6)
    .tickFormat(isBottom ? (d) => String(d) : () => "");
  const xa = g.append("g").attr("transform", `translate(0,${y(-6)})`).call(xAxis);
  xa.select(".domain").attr("stroke", inkColor).attr("stroke-width", 2.2);
  xa.selectAll(".tick line").attr("stroke", inkColor).attr("stroke-width", 1.2);
  xa.selectAll(".tick text").attr("fill", "#333").style("font-size", "10px").style("font-weight", "bold");

  // panel letter
  g.append("text")
    .attr("x", axisX + 13).attr("y", top + 15)
    .attr("fill", "#222")
    .style("font-size", "14px").style("font-weight", "bold")
    .text(panelLetters[idx]);

  // N and shift labels
  const nText = g.append("text")
    .attr("x", columnTextRight[col]).attr("y", y(-6) - 23)
    .attr("text-anchor", "end").attr("fill", "#333")
    .style("font-size", "15.5px").style("letter-spacing", "0.3px");
  nText.append("tspan").style("font-style", "italic").text("N");
  nText.append("tspan").text(" = " + panelN[idx]);
  g.append("text")
    .attr("x", columnTextRight[col]).attr("y", y(-6) - 6)
    .attr("text-anchor", "end").attr("fill", "#333")
    .style("font-size", "15.5px").style("letter-spacing", "0.3px")
    .text(panelShift[idx]);

  // y label (left column only)
  if (col === 0) {
    g.append("text")
      .attr("transform", `translate(16,${y(0)}) rotate(-90)`)
      .attr("text-anchor", "middle").attr("fill", "#333")
      .style("font-size", "10.5px")
      .text("Response Magnitude");
  }

  // significance markers
  const rot = { up: 0, right: 90, down: 180, left: 270 };
  const sym = d3.symbol().type(d3.symbolTriangle).size(26);
  markerPanel.forEach((p, k) => {
    if (p !== panelLetters[idx]) return;
    g.append("path")
      .attr("d", sym())
      .attr("transform", `translate(${x(markerTime[k])},${y(markerValue[k])}) rotate(${rot[markerDir[k]]})`)
      .attr("fill", "#111");
  });

  // time axis title, stimulus trace and labels under the bottom row
  if (isBottom) {
    g.append("text")
      .attr("x", x(70)).attr("y", y(-6) + 30)
      .attr("text-anchor", "middle").attr("fill", "#333")
      .style("font-size", "10px")
      .text("Zeit [ms]");

    const sy = d3.scaleLinear().domain([0, 1]).range([1843, 1826]);
    const stimPts = stimulusTime.map((t, i) => [x(t), sy(stimulusLevel[i])]);
    g.append("path")
      .attr("d", lineGen(stimPts))
      .attr("fill", "none").attr("stroke", "#333").attr("stroke-width", 2.6)
      .attr("stroke-linejoin", "miter");

    stimulusLabels.forEach((lab, i) => {
      g.append("text")
        .attr("x", x(stimulusLabelTime[i]))
        .attr("y", i === 0 ? 1858 : 1861.5)
        .attr("text-anchor", "middle").attr("fill", "#333")
        .style("font-size", "9.5px").style("font-weight", "bold")
        .text(lab);
    });
  }
});
</script>
</body>
</html>
